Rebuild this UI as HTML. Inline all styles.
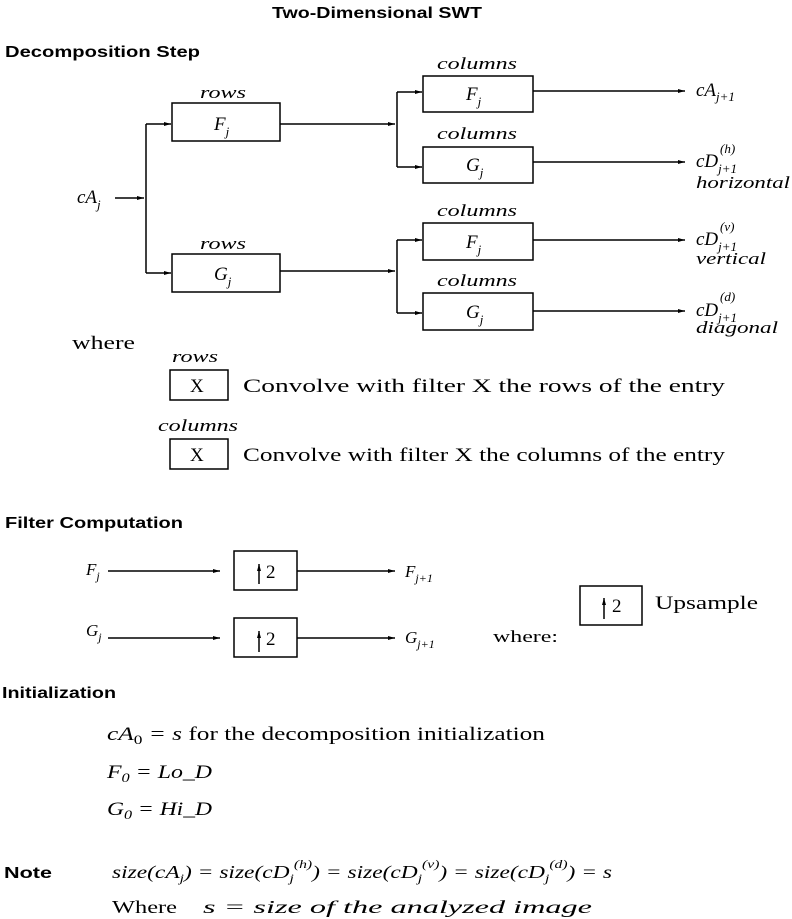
<!DOCTYPE html>
<html><head><meta charset="utf-8"><style>
html,body{margin:0;padding:0;background:#fff;}
svg{display:block}
.h{font-family:"Liberation Sans",sans-serif;font-weight:bold;font-size:16px;fill:#000}
.m{font-family:"Liberation Serif",serif;font-style:italic;fill:#000}
.r{font-family:"Liberation Serif",serif;fill:#000}
</style></head><body>
<svg width="792" height="919" viewBox="0 0 792 919" xmlns="http://www.w3.org/2000/svg">
<defs><marker id="a" markerWidth="8" markerHeight="6" refX="7" refY="3" orient="auto" markerUnits="userSpaceOnUse"><path d="M0,1 L7,3 L0,5 z" fill="#000"/></marker></defs>
<text class="h" x="272" y="18" font-size="17" textLength="210" lengthAdjust="spacingAndGlyphs">Two-Dimensional SWT</text>
<text class="h" x="5" y="57" textLength="195" lengthAdjust="spacingAndGlyphs">Decomposition Step</text>

<g stroke="#000" stroke-width="1.5" fill="none">
<line x1="115" y1="198" x2="144" y2="198" marker-end="url(#a)"/>
<line x1="146" y1="124" x2="146" y2="273"/>
<line x1="146" y1="124" x2="171" y2="124" marker-end="url(#a)"/>
<line x1="146" y1="273" x2="171" y2="273" marker-end="url(#a)"/>
<rect x="172" y="103" width="108" height="38"/>
<rect x="172" y="254" width="108" height="38"/>
<line x1="280" y1="124" x2="395" y2="124" marker-end="url(#a)"/>
<line x1="280" y1="271" x2="395" y2="271" marker-end="url(#a)"/>
<line x1="397" y1="92" x2="397" y2="167"/>
<line x1="397" y1="92" x2="422" y2="92" marker-end="url(#a)"/>
<line x1="397" y1="167" x2="422" y2="167" marker-end="url(#a)"/>
<line x1="397" y1="240" x2="397" y2="313"/>
<line x1="397" y1="240" x2="422" y2="240" marker-end="url(#a)"/>
<line x1="397" y1="313" x2="422" y2="313" marker-end="url(#a)"/>
<rect x="423" y="76" width="110" height="36"/>
<rect x="423" y="147" width="110" height="36"/>
<rect x="423" y="223" width="110" height="37"/>
<rect x="423" y="293" width="110" height="37"/>
<line x1="533" y1="91" x2="685" y2="91" marker-end="url(#a)"/>
<line x1="533" y1="162" x2="685" y2="162" marker-end="url(#a)"/>
<line x1="533" y1="240" x2="685" y2="240" marker-end="url(#a)"/>
<line x1="533" y1="311" x2="685" y2="311" marker-end="url(#a)"/>
<rect x="170" y="370" width="58" height="30"/>
<rect x="170" y="439" width="58" height="30"/>
<line x1="108" y1="571" x2="220" y2="571" marker-end="url(#a)"/>
<line x1="108" y1="638" x2="220" y2="638" marker-end="url(#a)"/>
<rect x="234" y="551" width="63" height="39"/>
<rect x="234" y="618" width="63" height="39"/>
<line x1="297" y1="571" x2="395" y2="571" marker-end="url(#a)"/>
<line x1="297" y1="638" x2="395" y2="638" marker-end="url(#a)"/>
<rect x="580" y="586" width="62" height="39"/>
<line x1="259" y1="584" x2="259" y2="564" marker-end="url(#a)"/>
<line x1="259" y1="652" x2="259" y2="631" marker-end="url(#a)"/>
<line x1="604" y1="619" x2="604" y2="598" marker-end="url(#a)"/>
</g>

<g class="m" font-size="17">
<text x="200" y="98" textLength="46" lengthAdjust="spacingAndGlyphs">rows</text>
<text x="200" y="249" textLength="46" lengthAdjust="spacingAndGlyphs">rows</text>
<text x="437" y="69" textLength="80" lengthAdjust="spacingAndGlyphs">columns</text>
<text x="437" y="139" textLength="80" lengthAdjust="spacingAndGlyphs">columns</text>
<text x="437" y="216" textLength="80" lengthAdjust="spacingAndGlyphs">columns</text>
<text x="437" y="286" textLength="80" lengthAdjust="spacingAndGlyphs">columns</text>
<text x="214" y="130" font-size="19">F<tspan font-size="13" dy="6">j</tspan></text>
<text x="214" y="280" font-size="19">G<tspan font-size="13" dy="6">j</tspan></text>
<text x="466" y="100" font-size="19">F<tspan font-size="13" dy="6">j</tspan></text>
<text x="466" y="171" font-size="19">G<tspan font-size="13" dy="6">j</tspan></text>
<text x="466" y="248" font-size="19">F<tspan font-size="13" dy="6">j</tspan></text>
<text x="466" y="318" font-size="19">G<tspan font-size="13" dy="6">j</tspan></text>
<text x="77" y="203" font-size="19">cA<tspan font-size="13" dy="6">j</tspan></text>
<text x="696" y="96" font-size="19">cA<tspan font-size="13" dy="5">j+1</tspan></text>
<text x="696" y="167" font-size="19">cD<tspan font-size="13" dy="6">j+1</tspan></text>
<text x="720" y="153" font-size="13">(h)</text>
<text x="696" y="188" textLength="94" lengthAdjust="spacingAndGlyphs">horizontal</text>
<text x="696" y="245" font-size="19">cD<tspan font-size="13" dy="6">j+1</tspan></text>
<text x="720" y="231" font-size="13">(v)</text>
<text x="696" y="264" textLength="70" lengthAdjust="spacingAndGlyphs">vertical</text>
<text x="696" y="316" font-size="19">cD<tspan font-size="13" dy="6">j+1</tspan></text>
<text x="720" y="301" font-size="13">(d)</text>
<text x="696" y="333" textLength="82" lengthAdjust="spacingAndGlyphs">diagonal</text>
<text x="172" y="362" textLength="46" lengthAdjust="spacingAndGlyphs">rows</text>
<text x="158" y="431" textLength="80" lengthAdjust="spacingAndGlyphs">columns</text>
<text x="86" y="575" font-size="17">F<tspan font-size="12" dy="5">j</tspan></text>
<text x="86" y="636" font-size="17">G<tspan font-size="12" dy="5">j</tspan></text>
<text x="405" y="577" font-size="17">F<tspan font-size="12" dy="5">j+1</tspan></text>
<text x="405" y="643" font-size="17">G<tspan font-size="12" dy="5">j+1</tspan></text>
</g>

<g class="r" font-size="19">
<text x="72" y="349" textLength="63" lengthAdjust="spacingAndGlyphs">where</text>
<text x="190" y="392">X</text>
<text x="243" y="392" textLength="482" lengthAdjust="spacingAndGlyphs">Convolve with filter X the rows of the entry</text>
<text x="190" y="461">X</text>
<text x="243" y="461" textLength="482" lengthAdjust="spacingAndGlyphs">Convolve with filter X the columns of the entry</text>
<text x="266" y="578">2</text>
<text x="266" y="645">2</text>
<text x="612" y="612">2</text>
<text x="493" y="642" font-size="17" textLength="65" lengthAdjust="spacingAndGlyphs">where:</text>
<text x="655" y="609" textLength="103" lengthAdjust="spacingAndGlyphs">Upsample</text>
</g>

<text class="h" x="5" y="528" textLength="178" lengthAdjust="spacingAndGlyphs">Filter Computation</text>
<text class="h" x="2" y="698" textLength="114" lengthAdjust="spacingAndGlyphs">Initialization</text>

<g font-size="19">
<text class="m" x="107" y="740" textLength="438" lengthAdjust="spacingAndGlyphs">cA<tspan class="r" font-style="normal" font-size="13" dy="4">0</tspan><tspan dy="-4" class="r"> = </tspan>s<tspan class="r" font-style="normal"> for the decomposition initialization</tspan></text>
<text class="m" x="107" y="778" textLength="105" lengthAdjust="spacingAndGlyphs">F<tspan font-size="13" dy="4">0</tspan><tspan dy="-4"> = Lo_D</tspan></text>
<text class="m" x="107" y="815" textLength="105" lengthAdjust="spacingAndGlyphs">G<tspan font-size="13" dy="4">0</tspan><tspan dy="-4"> = Hi_D</tspan></text>
</g>
<text class="h" x="4" y="878" font-size="17" textLength="48" lengthAdjust="spacingAndGlyphs">Note</text>
<g class="m" font-size="18">
<text x="112" y="878" textLength="500" lengthAdjust="spacingAndGlyphs">size(cA<tspan font-size="12" dy="4">j</tspan><tspan dy="-4">) = size(cD</tspan><tspan font-size="12" dy="4">j</tspan><tspan font-size="12" dy="-14">(h)</tspan><tspan dy="10">) = size(cD</tspan><tspan font-size="12" dy="4">j</tspan><tspan font-size="12" dy="-14">(v)</tspan><tspan dy="10">) = size(cD</tspan><tspan font-size="12" dy="4">j</tspan><tspan font-size="12" dy="-14">(d)</tspan><tspan dy="10">) = s</tspan></text>
<text x="112" y="913" class="r" font-style="normal" textLength="65" lengthAdjust="spacingAndGlyphs">Where</text>
<text x="203" y="913" textLength="389" lengthAdjust="spacingAndGlyphs">s = size of the analyzed image</text>
</g>
</svg>
</body></html>
